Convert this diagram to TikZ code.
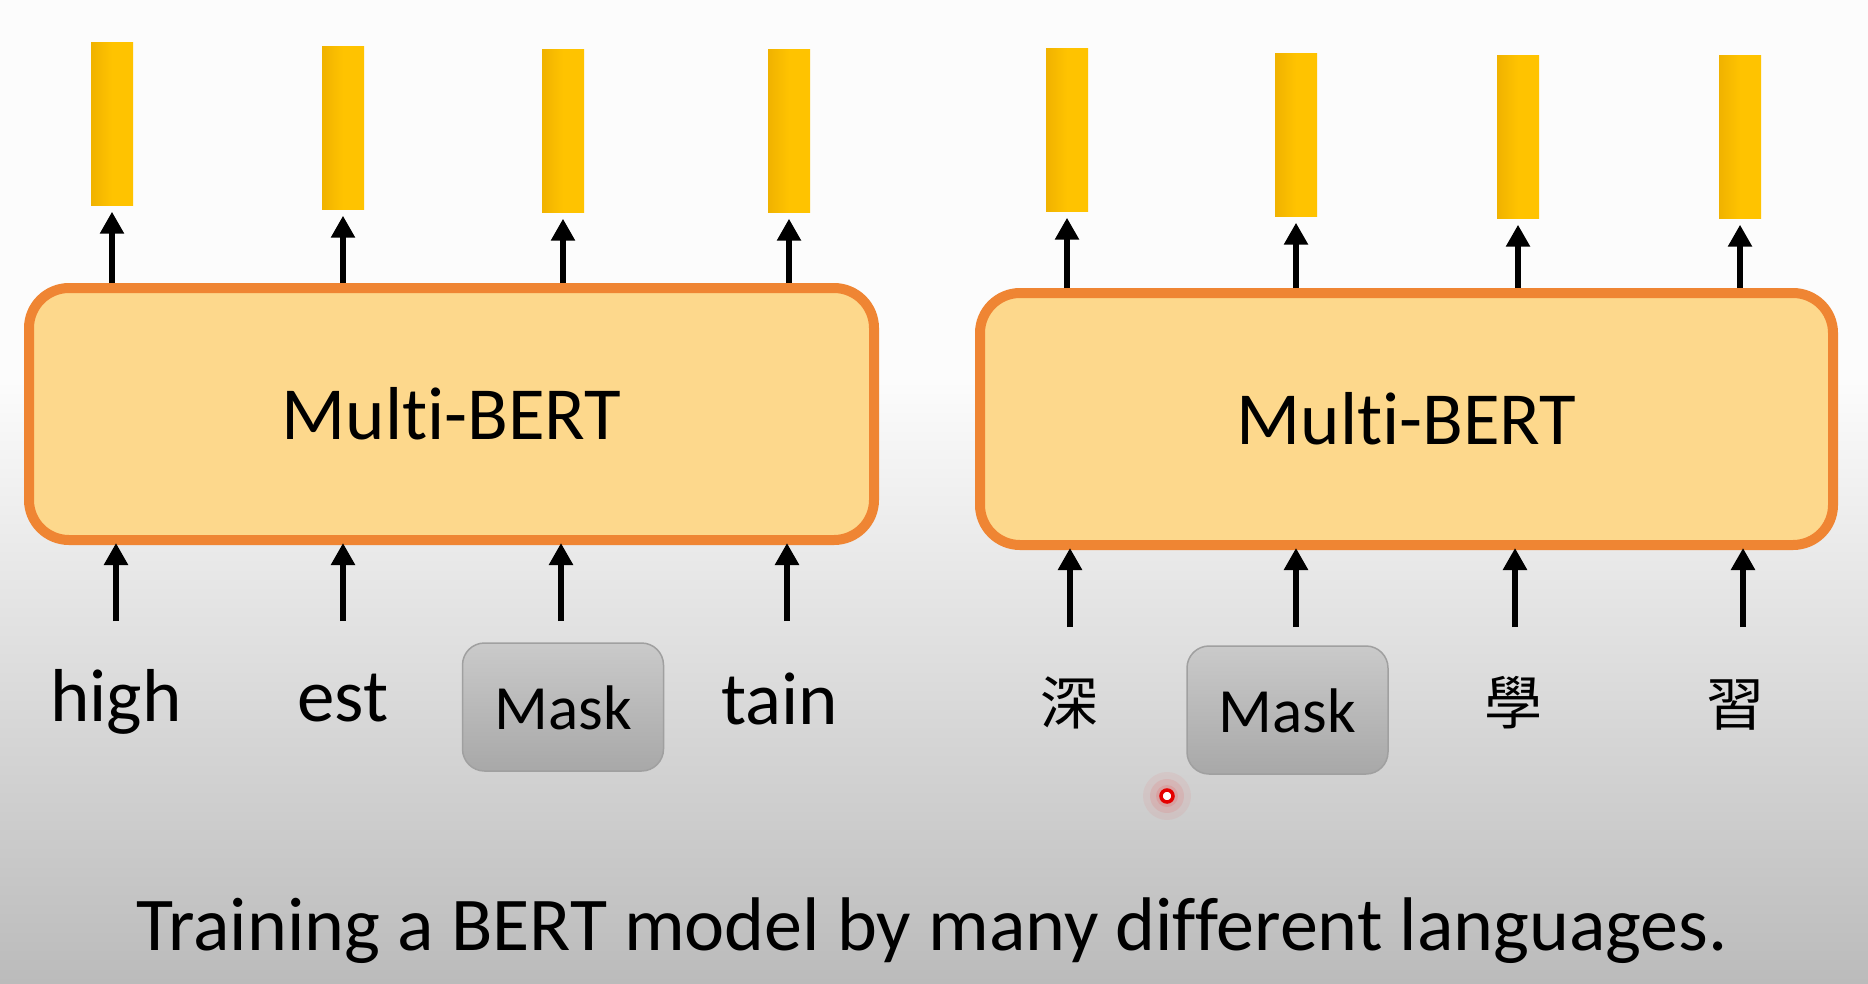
\documentclass[tikz,border=0pt]{standalone}
\usepackage{fontspec}
\setmainfont{Carlito}[Ligatures=NoCommon]
\newfontfamily\cjk{Noto Sans CJK TC}
\usetikzlibrary{arrows.meta,shadings}
\definecolor{boxfill}{HTML}{FDD88C}
\definecolor{boxline}{HTML}{EF8533}
\definecolor{barA}{HTML}{F0B200}
\definecolor{barB}{HTML}{FFC300}
\definecolor{maskTop}{HTML}{CACACA}
\definecolor{maskBot}{HTML}{A8A8A8}
\definecolor{maskLine}{HTML}{A0A0A0}
\definecolor{bgTop}{HTML}{FCFCFC}
\definecolor{bgBot}{HTML}{BBBBBB}
\begin{document}
\begin{tikzpicture}[x=1pt,y=-1pt,
  model/.style={draw=boxline, line width=10pt, fill=boxfill, rounded corners=40pt,
    minimum height=252pt, inner sep=0pt, font=\fontsize{75}{90}\selectfont},
  vecbar/.style={minimum width=42pt, minimum height=163pt, inner sep=0pt,
    left color=barA, right color=barB, middle color=barB},
  arr/.style={line width=6pt, -{Triangle[length=22pt,width=23pt]}},
  word/.style={anchor=base, inner sep=0pt, font=\fontsize{75}{90}\selectfont},
  hanzi/.style={inner sep=0pt, font=\cjk\fontsize{58}{70}\selectfont},
  maskbox/.style={draw=maskLine, line width=1.5pt, top color=maskTop, bottom color=maskBot,
    rounded corners=22pt, minimum width=201pt, minimum height=128pt, inner sep=0pt},
  masktext/.style={anchor=base, inner sep=0pt, font=\fontsize{63}{76}\selectfont}
]
\useasboundingbox (0,0) rectangle (1868,983);
% background
\fill[bgTop] (0,0) rectangle (1868,380);
\shade[top color=bgTop, bottom color=bgBot] (0,380) rectangle (1868,983);

% models
\node[model, minimum width=845pt] (lb) at (451.5,414) {Multi-BERT};
\node[model, minimum width=853pt] (rb) at (1406.5,419) {Multi-BERT};

% output vectors
\node[vecbar] (l1) at (112,124) {};
\node[vecbar] (l2) at (343,128) {};
\node[vecbar] (l3) at (563,131) {};
\node[vecbar] (l4) at (789,131) {};
\node[vecbar] (r1) at (1067,130) {};
\node[vecbar] (r2) at (1296,135) {};
\node[vecbar] (r3) at (1518,137) {};
\node[vecbar] (r4) at (1740,137) {};

% upward arrows to vectors
\foreach \b in {l1,l2,l3,l4}{
  \draw[arr] (lb.north -| \b.south) -- ([yshift=-6pt]\b.south);
}
\foreach \b in {r1,r2,r3,r4}{
  \draw[arr] (rb.north -| \b.south) -- ([yshift=-6pt]\b.south);
}

% input tokens (left)
\node[word] (w1) at (116,721) {high};
\node[word] (w2) at (343,721) {est};
\node[maskbox] (m1) at (563,707) {};
\node[masktext] (mt1) at (563,729) {Mask};
\node[word] (w4) at (780,724) {tain};

% input tokens (right)
\node[hanzi] (c1) at (1069,703) {深};
\node[maskbox] (m2) at (1287.5,710) {};
\node[masktext] (mt2) at (1287.5,732) {Mask};
\node[hanzi] (c3) at (1513,703) {學};
\node[hanzi] (c4) at (1735,705) {習};

% arrow starts
\coordinate (s1) at (116,621);
\coordinate (s2) at (343,621);
\coordinate (s3) at (561,621);
\coordinate (s4) at (787,621);
\coordinate (t1) at (1070,627);
\coordinate (t2) at (1296,627);
\coordinate (t3) at (1515,627);
\coordinate (t4) at (1743,627);
\foreach \s in {s1,s2,s3,s4}{
  \draw[arr] (\s) -- ([yshift=2pt]\s |- lb.south);
}
\foreach \s in {t1,t2,t3,t4}{
  \draw[arr] (\s) -- ([yshift=2pt]\s |- rb.south);
}

% pointer
\fill[red, opacity=0.05] (1167,796) circle (24);
\fill[red, opacity=0.08] (1167,796) circle (17);
\fill[red, opacity=0.10] (1167,796) circle (11);
\draw[red!90!black, line width=3.5pt, fill=white] (1167,796) circle (6);

% caption
\node[anchor=base, inner sep=0pt, font=\fontsize{76}{90}\selectfont] (cap) at (932,950)
  {Training a BERT model by many different languages.};
\end{tikzpicture}
\end{document}
